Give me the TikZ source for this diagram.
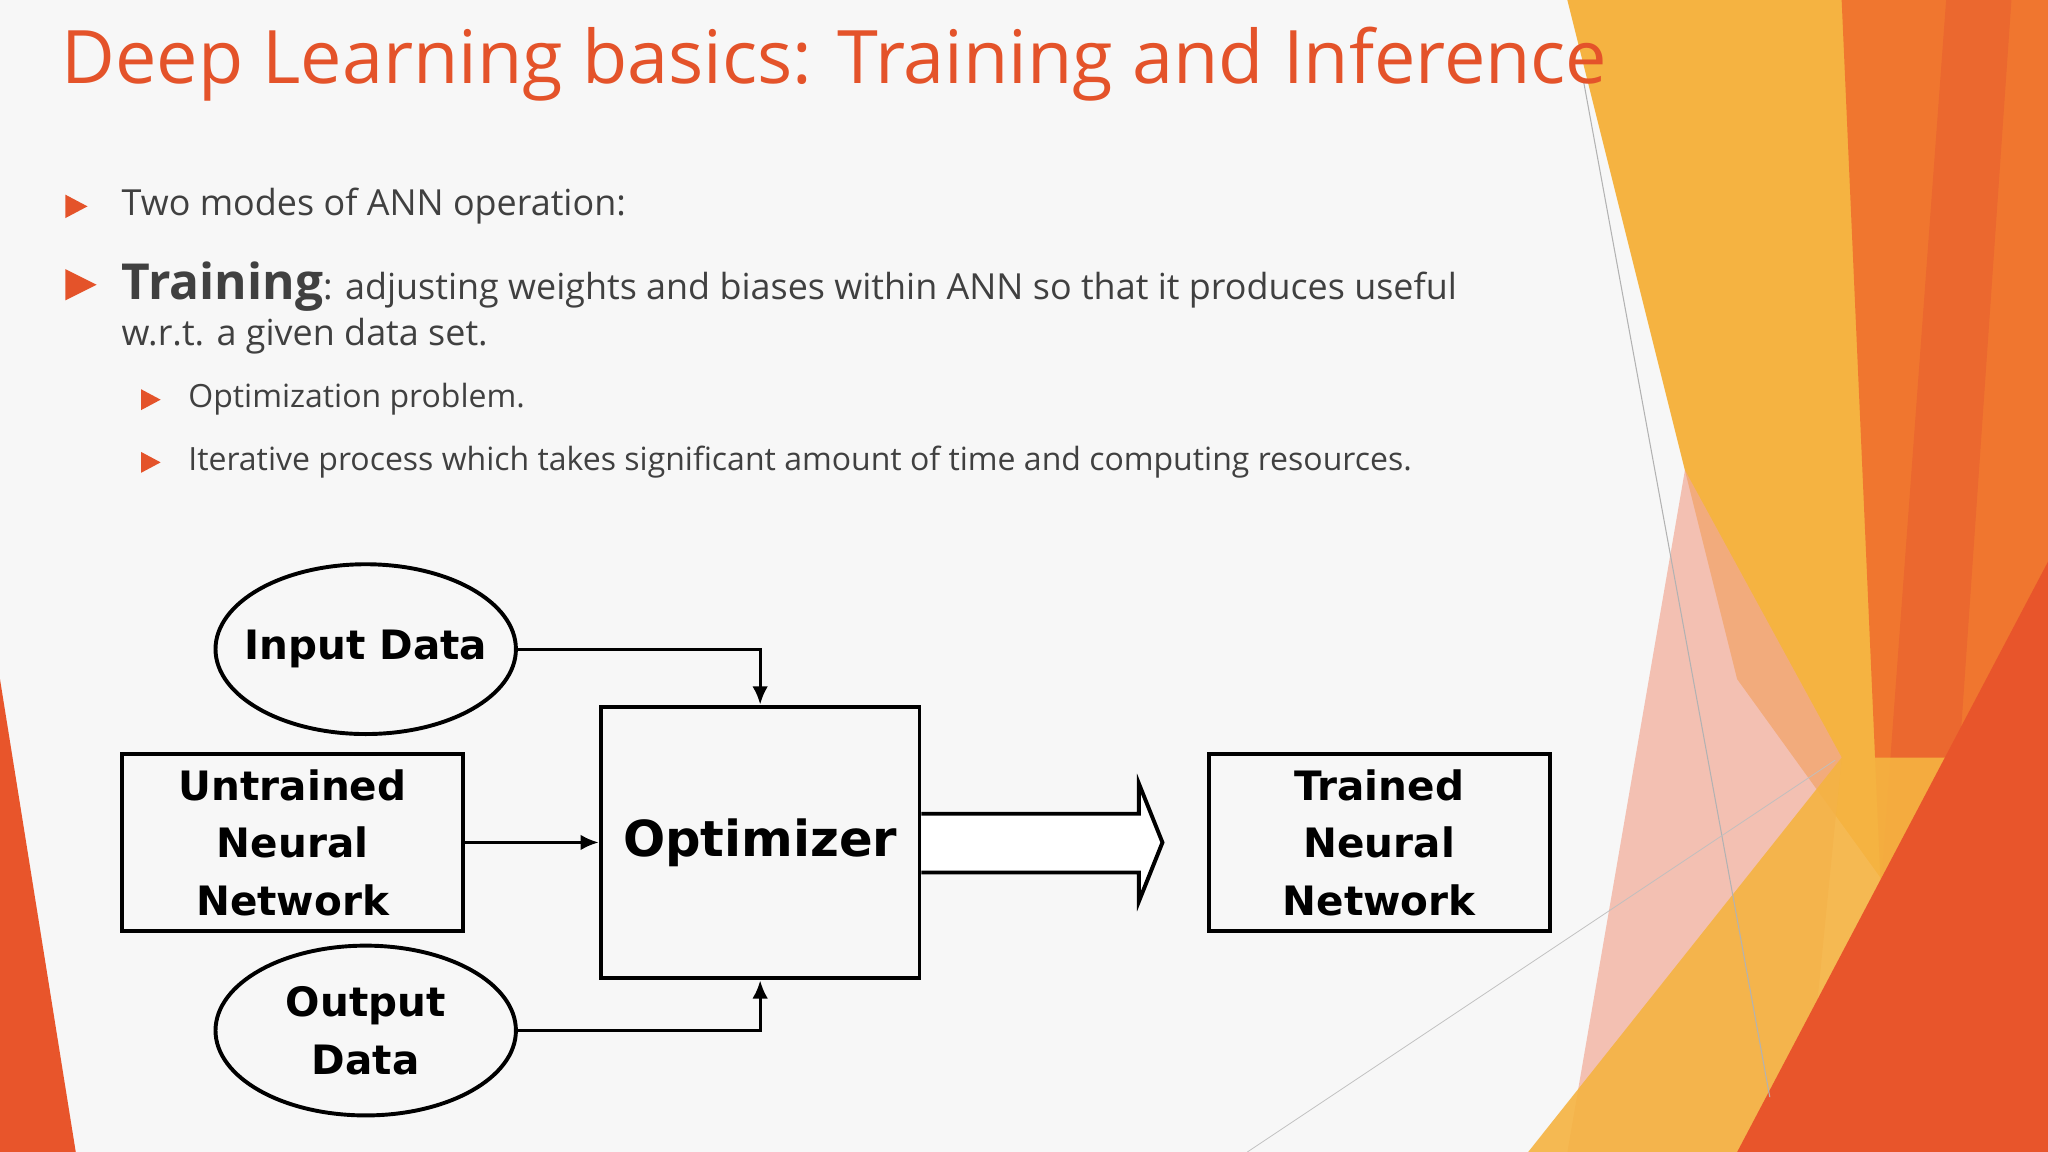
\documentclass[tikz,border=0pt]{standalone}
\usepackage{fontspec}
\setmainfont{Open Sans}
\newfontfamily\diag{DejaVu Sans}
\usetikzlibrary{arrows.meta}
\definecolor{ttl}{HTML}{E4532A}
\definecolor{txt}{HTML}{404040}
\definecolor{or1}{HTML}{E8552B}
\definecolor{or2}{HTML}{F0762F}
\definecolor{yl}{HTML}{F5B341}
\definecolor{pk}{HTML}{F2A996}
\tikzset{
 bul/.style={fill=ttl,draw=none},
 btxt/.style={anchor=west,text=txt,inner sep=0pt,font=\fontsize{27.5}{30}\selectfont},
 sbtxt/.style={anchor=west,text=txt,inner sep=0pt,font=\fontsize{24.5}{28}\selectfont},
 bx/.style={draw,line width=3pt,minimum width=261pt,minimum height=135pt,align=center,font=\diag\bfseries\fontsize{31}{44}\selectfont},
 eltxt/.style={align=center,inner sep=0pt,font=\diag\bfseries\fontsize{31}{44}\selectfont},
 elline/.style={line width=3pt},
 con/.style={line width=2.5pt,-{Latex[length=14pt,width=12pt]}},
}
\begin{document}
\begin{tikzpicture}[x=1pt,y=-1pt]
\useasboundingbox (0,0) rectangle (1568,882);
\fill[white!97!black] (0,0) rectangle (1568,882);
% decorations
\fill[yl] (1200,0) -- (1420,0) -- (1460,700) -- (1330,520) -- cycle;
\fill[or2] (1410,0) -- (1568,0) -- (1568,882) -- (1430,882) -- (1440,680) -- cycle;
\fill[or1!80!yl] (1490,0) -- (1540,0) -- (1500,580) -- (1440,680) -- cycle;
\fill[pk,opacity=0.7] (1290,360) -- (1410,580) -- (1380,882) -- (1200,882) -- cycle;
\fill[yl,opacity=0.9] (1410,580) -- (1500,580) -- (1430,882) -- (1170,882) -- cycle;
\fill[or1] (1568,430) -- (1568,882) -- (1330,882) -- cycle;
\fill[or1] (0,520) -- (58,882) -- (0,882) -- cycle;
\draw[gray!60,line width=0.8pt] (1212,60) -- (1355,840);
\draw[gray!50,line width=0.6pt] (955,882) -- (1405,582);
% title
\node[anchor=base west,inner sep=0pt,text=ttl,font=\fontsize{56.5}{60}\selectfont] (title) at (47,64) {Deep Learning basics: Training and Inference};
% bullets
\fill[bul] (50,149) -- (67,158) -- (50,167) -- cycle;
\node[btxt] (b1) at (93,158) {Two modes of ANN operation:};
\fill[bul] (50,206) -- (74,218) -- (50,230) -- cycle;
\node[btxt,anchor=base west] (b2) at (93,229) {{\bfseries\fontsize{38}{40}\selectfont Training}: adjusting weights and biases within ANN so that it produces useful};
\node[btxt] (b2b) at (93,257) {w.r.t. a given data set.};
\fill[bul] (108,298) -- (123,306) -- (108,314) -- cycle;
\node[sbtxt] (s1) at (144,306) {Optimization problem.};
\fill[bul] (108,346) -- (123,354) -- (108,362) -- cycle;
\node[sbtxt] (s2) at (144,354) {Iterative process which takes significant amount of time and computing resources.};
% diagram
\node[eltxt] (in) at (280,497) {Input Data};
\draw[elline] (in.center) ellipse (115 and 65);
\coordinate (ine) at (395,497);
\node[eltxt] (out) at (280,789) {Output\\Data};
\draw[elline] (out.center) ellipse (115 and 65);
\coordinate (oute) at (395,789);
\node[bx] (un) at (224,645) {Untrained\\Neural\\Network};
\node[bx,minimum width=244pt,minimum height=208pt,font=\diag\bfseries\fontsize{38}{44}\selectfont] (opt) at (582,645) {Optimizer};
\node[bx] (tr) at (1056,645) {Trained\\Neural\\Network};
\draw[con] (ine) -| (opt.north);
\draw[con] (oute) -| (opt.south);
\draw[con] (un.east) -- (opt.west);
\draw[line width=3pt,fill=white,line join=miter] (opt.east |- 0,623) -- (872,623) -- (872,600) -- (890,645) -- (872,690) -- (872,668) -- (opt.east |- 0,668);
\end{tikzpicture}
\end{document}
